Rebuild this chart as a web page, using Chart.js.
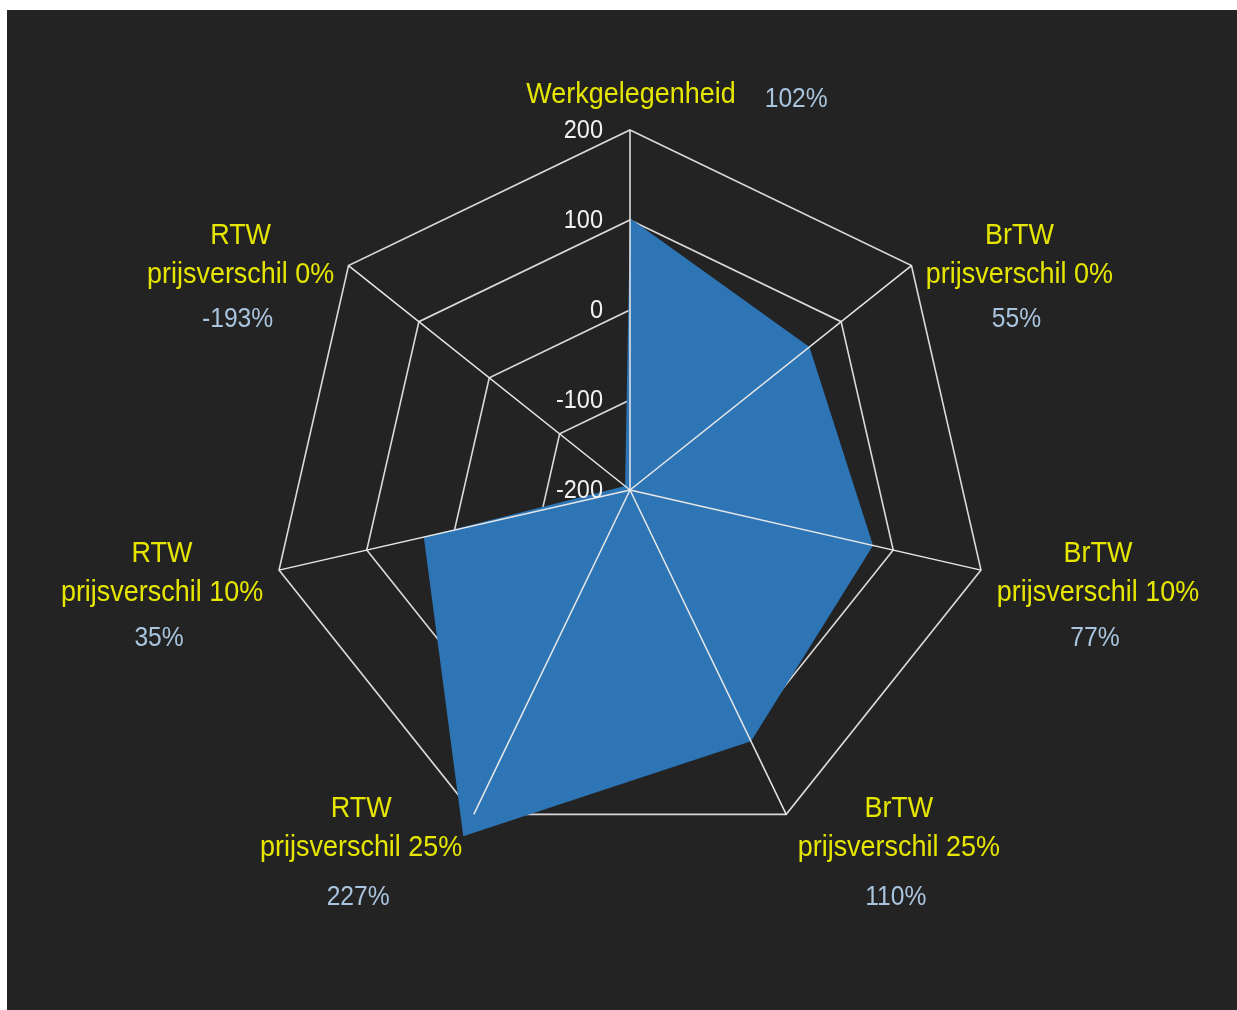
<!DOCTYPE html>
<html>
<head>
<meta charset="utf-8">
<script src="https://cdn.jsdelivr.net/npm/chart.js@4.4.1/dist/chart.umd.min.js"></script>
<style>
  html, body { margin: 0; padding: 0; background: #fff; }
  #wrap { position: absolute; left: 7px; top: 10px; width: 1230px; height: 1000px; background: #232323; }
</style>
</head>
<body>
<div id="wrap"><canvas id="radar" width="1230" height="1000"></canvas></div>
<script>
// ── DATA ─────────────────────────────
const CATEGORIES = [
  ['Werkgelegenheid'],
  ['BrTW', 'prijsverschil 0%'],
  ['BrTW', 'prijsverschil 10%'],
  ['BrTW', 'prijsverschil 25%'],
  ['RTW', 'prijsverschil 25%'],
  ['RTW', 'prijsverschil 10%'],
  ['RTW', 'prijsverschil 0%']
];
const VALUES = [102, 55, 77, 110, 227, 35, -193];
const VALUE_LABELS = ['102%', '55%', '77%', '110%', '227%', '35%', '-193%'];
const TICKS = [-200, -100, 0, 100, 200];

// ── STYLE ────────────────────────────
const FONT      = '"Liberation Sans", Arial, sans-serif';
const YELLOW    = '#e6e600';
const PCT_C     = '#a9c4de';
const GRID_C    = '#dadada';
const FILL_C    = '#2e75b6';

// slightly condensed text, like the original
function txt(ctx, s, x, y, size, sx, align, color) {
  ctx.save();
  ctx.font = `${size}px ${FONT}`;
  ctx.fillStyle = color;
  ctx.textAlign = align;
  ctx.textBaseline = 'middle';
  ctx.translate(x, y);
  ctx.scale(sx, 1);
  ctx.fillText(s, 0, 0);
  ctx.restore();
}
function txtW(ctx, s, size, sx) {
  ctx.font = `${size}px ${FONT}`;
  return ctx.measureText(s).width * sx;
}

const CAT_SIZE = 29, CAT_SX = 0.93;
const PCT_SIZE = 28, PCT_SX = 0.88;

// spokes, tick numbers and labels go on top of the filled area
const overlay = {
  id: 'overlay',
  afterDatasetsDraw(chart) {
    const s = chart.scales.r;
    const ctx = chart.ctx;
    const outer = s.drawingArea;
    ctx.save();

    // spokes
    ctx.strokeStyle = '#e8e8e8';
    ctx.lineWidth = 1.5;
    CATEGORIES.forEach((c, i) => {
      const p = s.getPointPosition(i, outer);
      ctx.beginPath();
      ctx.moveTo(s.xCenter, s.yCenter);
      ctx.lineTo(p.x, p.y);
      ctx.stroke();
    });

    // tick numbers
    TICKS.forEach(v => {
      const y = s.yCenter - s.getDistanceFromCenterForValue(v);
      txt(ctx, String(v), s.xCenter - 27, y + 1, 25, 0.94, 'right', '#f2f2f2');
    });

    // category + value labels
    CATEGORIES.forEach((lines, i) => {
      const v = s.getPointPosition(i, outer);
      const a = s.getIndexAngle(i) - Math.PI / 2;
      if (i === 0) {
        const w = txtW(ctx, lines[0], CAT_SIZE, CAT_SX);
        txt(ctx, lines[0], v.x + 1, v.y - 35, CAT_SIZE, CAT_SX, 'center', YELLOW);
        txt(ctx, VALUE_LABELS[i], v.x + 1 + w / 2 + 29, v.y - 31, PCT_SIZE, PCT_SX, 'left', PCT_C);
        return;
      }
      const w = Math.max(...lines.map(l => txtW(ctx, l, CAT_SIZE, CAT_SX)));
      const side = Math.sign(Math.cos(a));
      const gap = 8 + 8 * Math.abs(Math.cos(a));
      const cx = v.x + side * (gap + w / 2);
      const cy = v.y + 16 * Math.sin(a);
      txt(ctx, lines[0], cx, cy - 19.5, CAT_SIZE, CAT_SX, 'center', YELLOW);
      txt(ctx, lines[1], cx, cy + 19.5, CAT_SIZE, CAT_SX, 'center', YELLOW);
      const dy = 44 + 6 * Math.max(0, Math.sin(a));
      txt(ctx, VALUE_LABELS[i], cx - 3, cy + 19.5 + dy, PCT_SIZE, PCT_SX, 'center', PCT_C);
    });

    ctx.restore();
  }
};

new Chart(document.getElementById('radar'), {
  type: 'radar',
  data: {
    labels: CATEGORIES,
    datasets: [{
      data: VALUES,
      backgroundColor: FILL_C,
      borderWidth: 0,
      pointRadius: 0,
      pointHoverRadius: 0,
      fill: 'start',
      clip: false
    }]
  },
  options: {
    responsive: false,
    animation: false,
    devicePixelRatio: 1,
    layout: { padding: { left: 263, right: 247, top: 120, bottom: 160 } },
    plugins: { legend: { display: false }, tooltip: { enabled: false } },
    scales: {
      r: {
        min: -200, max: 200,
        ticks: { display: false, stepSize: 100 },
        grid: { color: GRID_C, lineWidth: 1.6 },
        angleLines: { display: false },
        pointLabels: { display: false }
      }
    }
  },
  plugins: [overlay]
});
</script>
</body>
</html>
